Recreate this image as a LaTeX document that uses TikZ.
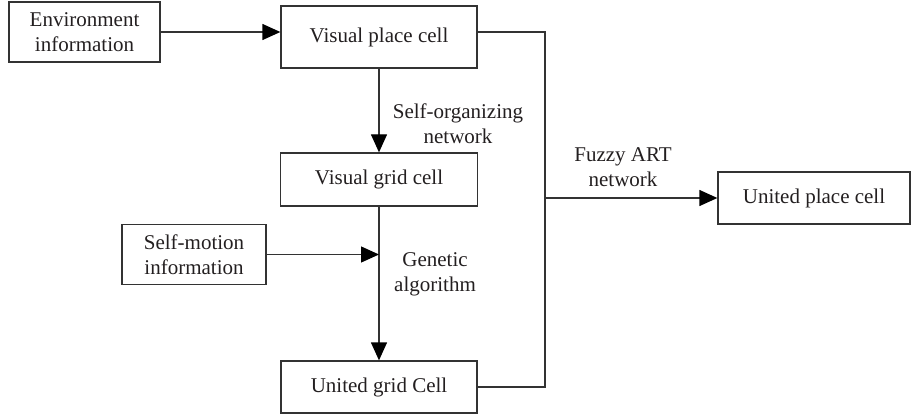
\documentclass[tikz,border=0pt]{standalone}
\usepackage{fontspec}
\setmainfont{Liberation Serif}
\usetikzlibrary{arrows.meta}
\definecolor{linec}{HTML}{333333}
\definecolor{textc}{HTML}{231F20}
\tikzset{
  box/.style={draw=linec, line width=1.3pt, rectangle, align=center, inner sep=0pt, text=textc,
    font=\fontsize{21}{25}\selectfont},
  lbl/.style={align=center, inner sep=0pt, text=textc, font=\fontsize{21}{25}\selectfont},
  conn/.style={draw=linec, line width=1.3pt},
  arr/.style={conn, -{Triangle[length=18pt, width=16pt, fill=black, color=black]}},
}
\begin{document}
\begin{tikzpicture}[x=1pt, y=-1pt]
\useasboundingbox (0,0) rectangle (919,417);
\node[box, minimum width=151pt, minimum height=60pt] (env) at (84.5,32) {Environment\\information};
\node[box, minimum width=196pt, minimum height=62pt] (vpc) at (379,37) {Visual place cell};
\node[box, minimum width=197pt, minimum height=53pt] (vgc) at (379,179.5) {Visual grid cell};
\node[box, minimum width=144pt, minimum height=60pt] (sm) at (194,254.5) {Self-motion\\information};
\node[box, minimum width=196pt, minimum height=52pt] (ugc) at (379,387) {United grid Cell};
\node[box, minimum width=192pt, minimum height=52pt] (upc) at (814,198) {United place cell};

\node[lbl] (l1) at (458,124) {Self-organizing\\network};
\node[lbl] (l2) at (435,274) {Genetic\\algorithm};
\node[lbl] (l3) at (623,167) {Fuzzy ART\\network};

\coordinate (j1) at (545,32);
\coordinate (j2) at (545,387);
\coordinate (j3) at (545,198);

\draw[arr] (env.east) -- (env.east -| vpc.west);
\draw[arr] (vpc.south) -- (vgc.north);
\draw[arr] (vgc.south) -- (ugc.north);
\draw[arr] (sm.east) -- (sm.east -| vgc.south);
\draw[conn] (env.east -| vpc.east) -- (j1) -- (j2) -- (ugc.east);
\draw[arr] (j3) -- (upc.west);
\end{tikzpicture}
\end{document}
